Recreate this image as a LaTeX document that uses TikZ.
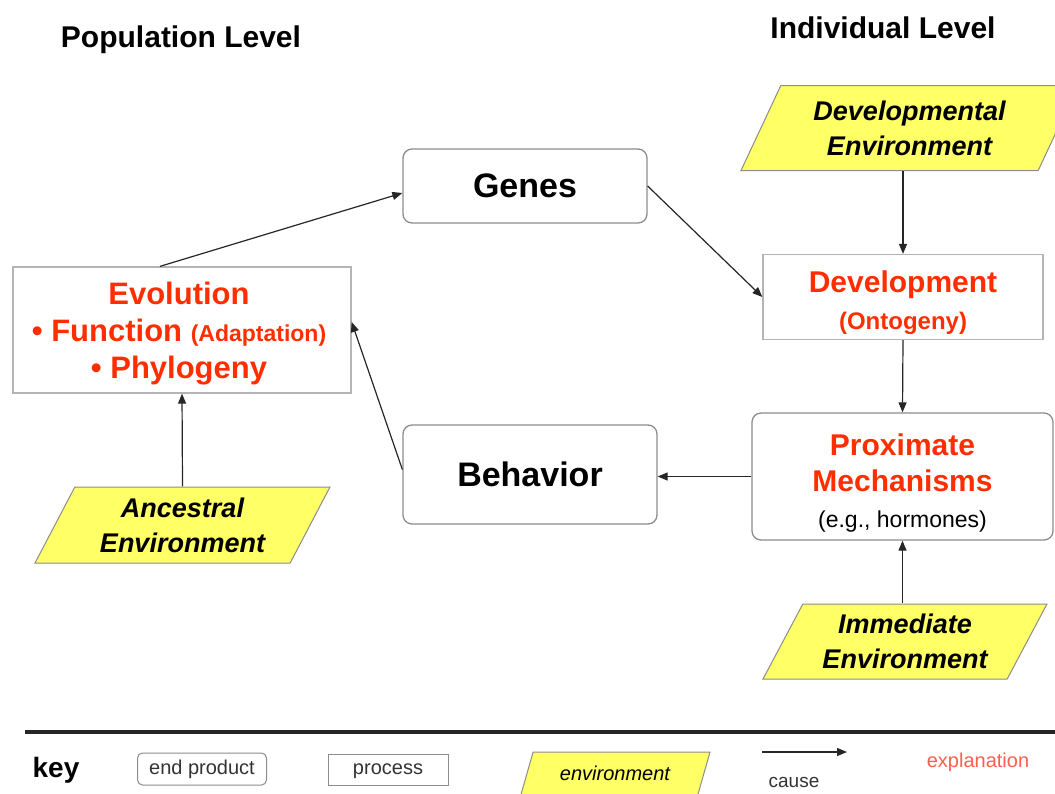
\documentclass[tikz,border=0pt]{standalone}
\usepackage{fontspec}
\setmainfont{Liberation Sans}
\usepackage{tikz}
\usetikzlibrary{arrows.meta,shapes.geometric}

\definecolor{expred}{HTML}{FF2E00}
\definecolor{keyred}{HTML}{FF5E4E}
\definecolor{envyellow}{HTML}{FFFF66}
\definecolor{boxgray}{HTML}{8C8C8C}
\definecolor{lightgray}{HTML}{B4B4B4}

\tikzset{
  endprod/.style={draw=boxgray, line width=1.3pt, rounded corners=9pt, inner sep=0pt, align=center},
  procbox/.style={draw=lightgray, line width=1.3pt, inner sep=0pt, align=center},
  envbox/.style={draw=boxgray, line width=1pt, fill=envyellow, trapezium, trapezium left angle=54,
    trapezium right angle=126, trapezium stretches body=true, inner sep=0pt, align=center},
  causearrow/.style={draw=black!85, line width=1.2pt, -{Triangle[length=10pt,width=8pt]}},
}

\begin{document}
\begin{tikzpicture}[x=1pt, y=-1pt]
    \useasboundingbox (0,0) rectangle (1055,793);
    % level titles
    \node[font = {\fontsize{30}{34}\selectfont\bfseries}, black] (poplevel) at (181, 40) {Population Level};
    \node[font = {\fontsize{30}{34}\selectfont\bfseries}, black] (indlevel) at (883, 28) {Individual Level};

    % boxes
    \node[endprod, minimum width=244pt, minimum height=74pt, font = {\fontsize{34}{40}\selectfont\bfseries}] (genes) at (525, 186) {Genes};
    \node[procbox, minimum width=338pt, minimum height=126pt] (evo) at (182, 330) {};
    \node[text=expred, align=center, inner sep=0pt, font = {\fontsize{31}{37}\selectfont\bfseries}] (evolabel) at (179, 334)
          {Evolution\\ \textbullet\ Function {\fontsize{23}{37}\selectfont(Adaptation)}\\ \textbullet\ Phylogeny};
    \node[procbox, minimum width=280pt, minimum height=85pt] (dev) at (903, 297) {};
    \node[text=expred, align=center, inner sep=0pt, font = {\fontsize{30}{37}\selectfont\bfseries}] (devlabel) at (903, 303)
          {Development\\ {\fontsize{24}{37}\selectfont(Ontogeny)}};
    \node[endprod, minimum width=301pt, minimum height=127pt] (prox) at (902.5, 476.5) {};
    \node[text=expred, align=center, inner sep=0pt, font = {\fontsize{30}{36}\selectfont\bfseries}] (proxlabel) at (902.5, 483)
          {Proximate\\ Mechanisms\\ {\fontsize{23}{36}\selectfont\mdseries\color{black}(e.g., hormones)}};
    \node[endprod, minimum width=254pt, minimum height=99pt, font = {\fontsize{34}{40}\selectfont\bfseries}] (beh) at (530, 474.5) {Behavior};

    % environments
    \node[envbox, minimum width=337pt, minimum height=85pt, font = {\fontsize{27}{35}\selectfont\bfseries\itshape}] (devenv) at (909.5, 128)
          {Developmental\\ Environment};
    \node[envbox, minimum width=295pt, minimum height=76pt, font = {\fontsize{27}{35}\selectfont\bfseries\itshape}] (ancenv) at (182.5, 525)
          {Ancestral\\ Environment};
    \node[envbox, minimum width=284pt, minimum height=75pt, font = {\fontsize{27}{35}\selectfont\bfseries\itshape}] (immenv) at (905, 641.5)
          {Immediate\\ Environment};

    % causes
    \draw[causearrow] ([xshift=-22pt]evo.north) -- ([yshift=-7pt]genes.west);
    \draw[causearrow] (genes.east) -- (dev.west);
    \draw[causearrow] (dev.north |- devenv.south) -- (dev.north);
    \draw[causearrow] (dev.south) -- (prox.north);
    \draw[causearrow] (prox.south |- immenv.north) -- (prox.south);
    \draw[causearrow] (prox.west) -- (prox.west -| beh.east);
    \draw[causearrow] ([yshift=5pt]beh.west) -- ([yshift=8pt]evo.east);
    \draw[causearrow] (ancenv.north) -- (evo.south);

    % key
    \coordinate (rulestart) at (25, 732);
    \coordinate (ruleend) at (1055, 732);
    \draw[line width=4pt, black!85] (rulestart) -- (ruleend);
    \node[font = {\fontsize{28}{32}\selectfont\bfseries}, black] (keylabel) at (56, 770) {key};
    \node[endprod, line width=1pt, rounded corners=5pt, minimum width=129pt, minimum height=32pt,
          text height=14pt, text depth=4pt, font = {\fontsize{20}{24}\selectfont}, text=black!80] (keyend) at (202, 769) {end product};
    \node[procbox, draw=boxgray, line width=1pt, minimum width=120pt, minimum height=31pt,
          text height=14pt, text depth=4pt, font = {\fontsize{20}{24}\selectfont}, text=black!80] (keyproc) at (388, 769.5) {process};
    \node[envbox, minimum width=190pt, minimum height=46pt, text height=14pt, text depth=4pt,
          font = {\fontsize{20}{24}\selectfont\itshape}] (keyenv) at (615, 775) {environment};
    \coordinate (causestart) at (762, 752);
    \coordinate (causeend) at (847, 752);
    \draw[causearrow] (causestart) -- (causeend);
    \node[font = {\fontsize{19}{24}\selectfont}, black!80] (keycause) at (794, 782) {cause};
    \node[font = {\fontsize{20}{24}\selectfont}, keyred] (keyexp) at (978, 762) {explanation};
\end{tikzpicture}
\end{document}
